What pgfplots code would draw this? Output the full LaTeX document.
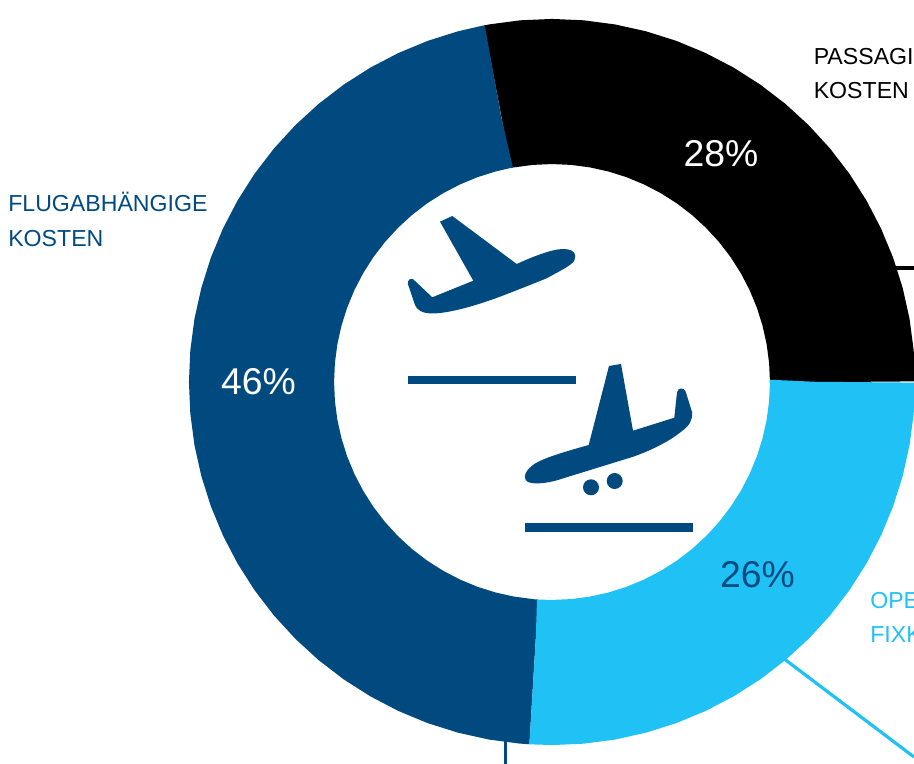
\documentclass[border=0pt]{standalone}
\usepackage{fontspec}
\setmainfont{Liberation Sans}
\usepackage{pgfplots}
\pgfplotsset{compat=1.18}
\definecolor{navy}{HTML}{004A7F}
\definecolor{sky}{HTML}{20C1F5}
\begin{document}
\begin{tikzpicture}[x=1pt,y=1pt]
\clip (0,0) rectangle (685.5pt,573pt);
\begin{axis}[
  at={(0pt,0pt)}, anchor=south west,
  scale only axis, width=685.5pt, height=573pt,
  xmin=-552, xmax=362, ymin=-382, ymax=382,
  hide axis,
  every axis plot/.append style={no markers},
]
% Leader lines from the ring to the labels
\addplot[navy, line width=2.6pt] coordinates {(-46.3,-355) (-46.3,-382)};
\addplot[black, line width=2.4pt] coordinates {(330,114) (362,114)};
\addplot[sky, line width=2.4pt] coordinates {(225,-271.5) (362,-375)};

% Ring segments as (angle, radius): 1% of the costs is 3.6 degrees.
% The short first and last steps keep the cut ends radial.
\addplot[black, line width=108.75pt, data cs=polar] coordinates {
  (0,290.5) (0.2,290.5) (5,290.5) (10,290.5) (15,290.5) (20,290.5) (25,290.5) (30,290.5)
  (35,290.5) (40,290.5) (45,290.5) (50,290.5) (55,290.5) (60,290.5) (65,290.5)
  (70,290.5) (75,290.5) (80,290.5) (85,290.5) (90,290.5) (95,290.5) (100,290.5)
  (100.6,290.5) (100.8,290.5)};
\addplot[navy, line width=108.75pt, data cs=polar] coordinates {
  (100.8,290.5) (101,290.5) (105,290.5) (110,290.5) (115,290.5) (120,290.5) (125,290.5)
  (130,290.5) (135,290.5) (140,290.5) (145,290.5) (150,290.5) (155,290.5)
  (160,290.5) (165,290.5) (170,290.5) (175,290.5) (180,290.5) (185,290.5)
  (190,290.5) (195,290.5) (200,290.5) (205,290.5) (210,290.5) (215,290.5)
  (220,290.5) (225,290.5) (230,290.5) (235,290.5) (240,290.5) (245,290.5)
  (250,290.5) (255,290.5) (260,290.5) (265,290.5) (266.2,290.5) (266.4,290.5)};
\addplot[sky, line width=108.75pt, data cs=polar] coordinates {
  (266.4,290.5) (266.6,290.5) (270,290.5) (275,290.5) (280,290.5) (285,290.5) (290,290.5)
  (295,290.5) (300,290.5) (305,290.5) (310,290.5) (315,290.5) (320,290.5)
  (325,290.5) (330,290.5) (335,290.5) (340,290.5) (345,290.5) (350,290.5)
  (355,290.5) (359.8,290.5) (360,290.5)};
\end{axis}

% Everything below is laid out in a top-left origin, 1 unit = 0.75pt
\begin{scope}[x=0.75pt,y=-0.75pt,yshift=573pt]
  \def\lab#1#2#3#4{\node[anchor=base west,inner sep=0pt,text=#3,font=\fontsize{17.35pt}{20pt}\selectfont] at (#1,#2) {#4};}
  \lab{8}{212}{navy}{FLUGABHÄNGIGE}
  \lab{8}{246.5}{navy}{KOSTEN}
  \lab{813.5}{64.5}{black}{PASSAGIERBEZOGENE}
  \lab{813.5}{98.5}{black}{KOSTEN}
  \lab{870}{609}{sky}{OPERATIVE}
  \lab{870}{643}{sky}{FIXKOSTEN}

  \def\pct#1#2#3#4{\node[anchor=base,inner sep=0pt,text=#3,font=\fontsize{28pt}{30pt}\selectfont] at (#1,#2) {#4};}
  \pct{721}{167}{white}{28\%}
  \pct{258.5}{394.5}{white}{46\%}
  \pct{757.5}{587.5}{navy}{26\%}

  % Departing aircraft over its runway
  \fill[navy] (440,221.7) -- (452.3,216) -- (516.7,264)
    .. controls (532,257) and (552,249) .. (563,249)
    .. controls (570,249) and (575,251) .. (575.3,256)
    .. controls (576,263) and (569,266) .. (546.7,278.3)
    .. controls (530,285) and (515,291) .. (500,296.7)
    .. controls (475,306) and (450,313) .. (433,313.5)
    .. controls (422,313.5) and (417,310) .. (415,305)
    -- (407.9,284)
    .. controls (407,280) and (412,276) .. (415,281)
    -- (432.3,297.3) -- (473.3,280.7) -- cycle;
  \fill[navy] (407.7,376) rectangle (575.5,384.3);

  % Arriving aircraft over its runway
  \fill[navy] (609,366) -- (621,364) -- (633,430.7) -- (674.3,417.7)
    -- (677,392.5)
    .. controls (677.5,387.5) and (684,387) .. (685.7,391.7)
    -- (692,412)
    .. controls (693,420) and (689,426) .. (682,431)
    .. controls (670,441) and (652,450) .. (633.3,456.7)
    -- (563.3,478.3)
    .. controls (550,483) and (535,485) .. (528,482)
    .. controls (524,480) and (524,475) .. (527,471)
    .. controls (533,462) and (546,457) .. (588.7,445)
    -- cycle;
  \fill[navy] (591,487.3) circle[radius=8];
  \fill[navy] (614.7,481) circle[radius=8];
  \fill[navy] (525,523.5) rectangle (692.7,532);
\end{scope}
\end{tikzpicture}
\end{document}
